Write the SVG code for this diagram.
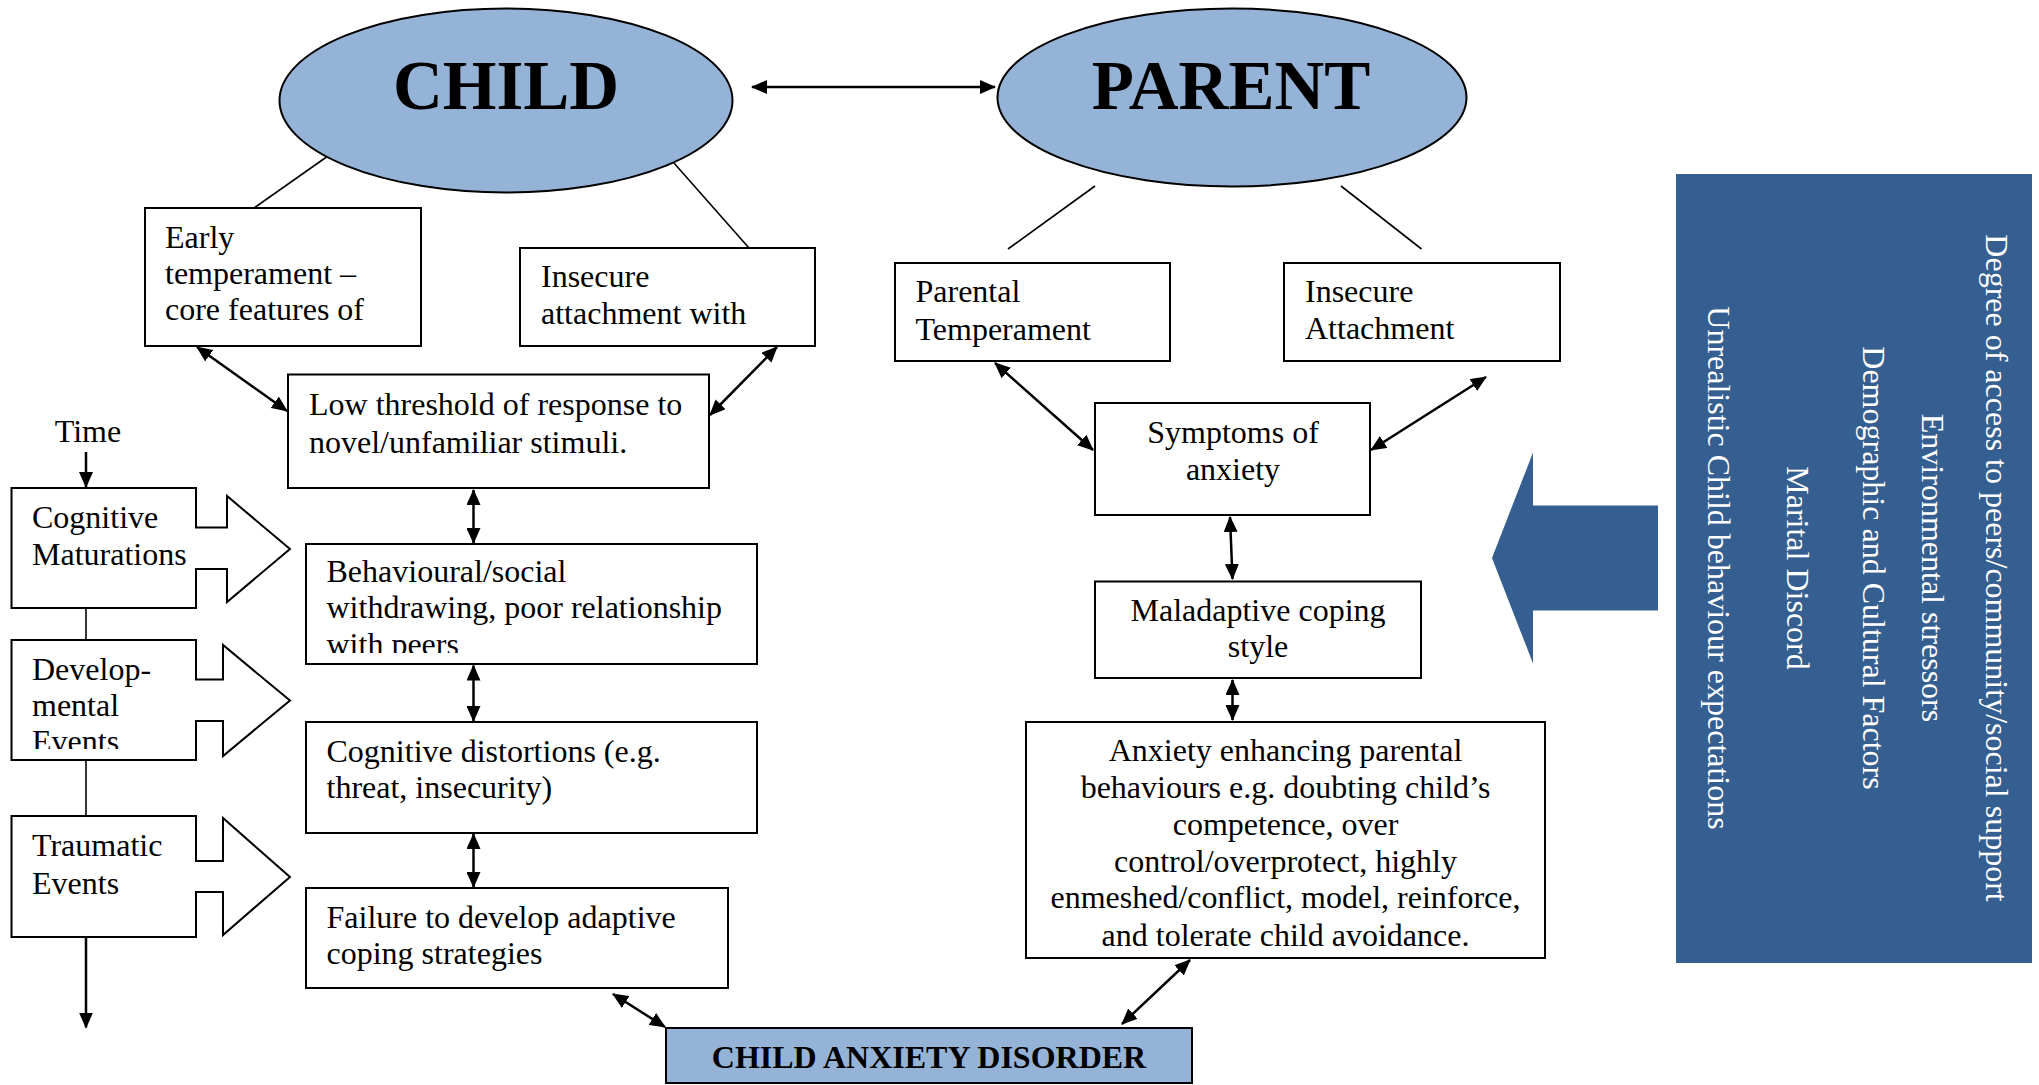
<svg xmlns="http://www.w3.org/2000/svg" width="2039" height="1085" viewBox="0 0 2039 1085">
<style>
.box{fill:#fff;stroke:#000;stroke-width:2}
.ell{fill:#95B3D7;stroke:#000;stroke-width:2}
.t{font-family:'Liberation Serif','Times New Roman',serif;font-size:32px;fill:#000}
.tm{font-family:'Liberation Serif','Times New Roman',serif;font-size:32px;fill:#000;text-anchor:middle}
.big{font-family:'Liberation Serif','Times New Roman',serif;font-size:69px;font-weight:bold;fill:#000;text-anchor:middle}
.rot{font-family:'Liberation Serif','Times New Roman',serif;font-size:32px;fill:#fff;text-anchor:middle}
.c2{stroke:#000;stroke-width:2.5;fill:none;marker-start:url(#ah);marker-end:url(#ah)}
.c1{stroke:#000;stroke-width:2.5;fill:none;marker-end:url(#ah)}
.thin{stroke:#000;stroke-width:1.6;fill:none}
</style>
<defs>
<marker id="ah" viewBox="0 0 16 14" refX="15" refY="7" markerWidth="16" markerHeight="14" markerUnits="userSpaceOnUse" orient="auto-start-reverse"><path d="M0,0 L16,7 L0,14 z" fill="#000"/></marker>
<clipPath id="clipDev"><rect x="12" y="641" width="184" height="108"/></clipPath>
<clipPath id="clipBeh"><rect x="307" y="545" width="449" height="108"/></clipPath>
</defs>
<rect width="2039" height="1085" fill="#fff"/>

<g id="connectors">
<line class="c2" x1="752" y1="87" x2="995" y2="87"/>
<line class="thin" x1="326.5" y1="157" x2="254" y2="208"/>
<line class="thin" x1="666" y1="154" x2="749" y2="248"/>
<line class="thin" x1="1095" y1="186" x2="1008" y2="249"/>
<line class="thin" x1="1341" y1="186" x2="1421.5" y2="249"/>
<line class="c2" x1="197" y1="347" x2="287" y2="411"/>
<line class="c2" x1="777" y1="347" x2="710" y2="415"/>
<line class="c2" x1="473.5" y1="490" x2="473.5" y2="543"/>
<line class="c2" x1="473.5" y1="665.5" x2="473.5" y2="721"/>
<line class="c2" x1="473.5" y1="834" x2="473.5" y2="887"/>
<line class="c2" x1="613" y1="994" x2="665" y2="1027"/>
<line class="c2" x1="995" y1="363" x2="1093" y2="450"/>
<line class="c2" x1="1486" y1="377" x2="1371" y2="450"/>
<line class="c2" x1="1230" y1="517" x2="1232.5" y2="579"/>
<line class="c2" x1="1232.5" y1="680" x2="1232.5" y2="720"/>
<line class="c2" x1="1190" y1="960" x2="1122" y2="1024"/>
<line class="c1" x1="86" y1="452" x2="86" y2="487"/>
<line class="thin" x1="86" y1="608" x2="86" y2="640"/>
<line class="thin" x1="86" y1="761" x2="86" y2="816"/>
<line class="c1" x1="86" y1="937" x2="86" y2="1027.5"/>
</g>

<g id="child">
<ellipse class="ell" cx="506" cy="100.5" rx="226.5" ry="92"/>
<text class="big" x="506" y="109">CHILD</text>
</g>
<g id="parent">
<ellipse class="ell" cx="1232" cy="97.5" rx="234.5" ry="89"/>
<text class="big" x="1231" y="109">PARENT</text>
</g>

<g id="early-temperament">
<rect class="box" x="145" y="208" width="276" height="138"/>
<text class="t" x="165" y="248">Early</text>
<text class="t" x="165" y="284">temperament –</text>
<text class="t" x="165" y="320">core features of</text>
</g>
<g id="insecure-attachment-child">
<rect class="box" x="520" y="248" width="295" height="98"/>
<text class="t" x="541" y="287">Insecure</text>
<text class="t" x="541" y="324">attachment with</text>
</g>
<g id="low-threshold">
<rect class="box" x="288" y="374.5" width="421" height="113.5"/>
<text class="t" x="309" y="415">Low threshold of response to</text>
<text class="t" x="309" y="453">novel/unfamiliar stimuli.</text>
</g>
<g id="behavioural">
<rect class="box" x="306" y="544" width="451" height="120"/>
<g clip-path="url(#clipBeh)">
<text class="t" x="326.5" y="582">Behavioural/social</text>
<text class="t" x="326.5" y="618">withdrawing, poor relationship</text>
<text class="t" x="326.5" y="655">with peers</text>
</g>
</g>
<g id="cognitive-distortions">
<rect class="box" x="306" y="722" width="451" height="111"/>
<text class="t" x="326.5" y="762">Cognitive distortions (e.g.</text>
<text class="t" x="326.5" y="798">threat, insecurity)</text>
</g>
<g id="failure">
<rect class="box" x="306" y="888" width="422" height="100"/>
<text class="t" x="326.5" y="928">Failure to develop adaptive</text>
<text class="t" x="326.5" y="964">coping strategies</text>
</g>
<g id="child-anxiety-disorder">
<rect x="666" y="1028" width="526" height="55" fill="#95B3D7" stroke="#000" stroke-width="2"/>
<text x="929" y="1068" font-family="'Liberation Serif','Times New Roman',serif" font-size="32" font-weight="bold" text-anchor="middle">CHILD ANXIETY DISORDER</text>
</g>

<g id="time">
<text class="tm" x="88" y="442">Time</text>
</g>
<g id="cognitive-maturations">
<path class="box" d="M11.5,488 H196 V527.5 H227 V496 L290,549 L227,602 V569 H196 V608 H11.5 Z"/>
<text class="t" x="32" y="528">Cognitive</text>
<text class="t" x="32" y="565">Maturations</text>
</g>
<g id="developmental-events">
<path class="box" d="M11.5,640 H196 V679.5 H223 V645 L290,700.5 L223,756 V721 H196 V760 H11.5 Z"/>
<g clip-path="url(#clipDev)">
<text class="t" x="32" y="680">Develop-</text>
<text class="t" x="32" y="716">mental</text>
<text class="t" x="32" y="752">Events</text>
</g>
</g>
<g id="traumatic-events">
<path class="box" d="M11.5,816 H196 V861 H223 V818 L290,877 L223,935 V892 H196 V937 H11.5 Z"/>
<text class="t" x="32" y="856">Traumatic</text>
<text class="t" x="32" y="893.5">Events</text>
</g>

<g id="parental-temperament">
<rect class="box" x="895" y="263" width="275" height="98"/>
<text class="t" x="915.5" y="302">Parental</text>
<text class="t" x="915.5" y="340">Temperament</text>
</g>
<g id="insecure-attachment-parent">
<rect class="box" x="1284" y="263" width="276" height="98"/>
<text class="t" x="1305" y="302">Insecure</text>
<text class="t" x="1305" y="339">Attachment</text>
</g>
<g id="symptoms">
<rect class="box" x="1095" y="403" width="275" height="112"/>
<text class="tm" x="1233" y="443">Symptoms of</text>
<text class="tm" x="1233" y="480">anxiety</text>
</g>
<g id="maladaptive">
<rect class="box" x="1095" y="581.5" width="326" height="96.5"/>
<text class="tm" x="1258" y="620.5">Maladaptive coping</text>
<text class="tm" x="1258" y="656.5">style</text>
</g>
<g id="anxiety-enhancing">
<rect class="box" x="1026" y="722" width="519" height="236"/>
<text class="tm" x="1285.5" y="761">Anxiety enhancing parental</text>
<text class="tm" x="1285.5" y="798">behaviours e.g. doubting child’s</text>
<text class="tm" x="1285.5" y="835">competence, over</text>
<text class="tm" x="1285.5" y="871.5">control/overprotect, highly</text>
<text class="tm" x="1285.5" y="908">enmeshed/conflict, model, reinforce,</text>
<text class="tm" x="1285.5" y="945.5">and tolerate child avoidance.</text>
</g>

<g id="external-arrow">
<polygon points="1492,558 1533,452.5 1533,505.5 1658,505.5 1658,610.5 1533,610.5 1533,663.5" fill="#365F91"/>
</g>
<g id="external-factors">
<rect x="1676" y="174" width="356" height="789" fill="#365F91"/>
<text class="rot" transform="translate(1986,568) rotate(90)">Degree of access to peers/community/social support</text>
<text class="rot" transform="translate(1922,568) rotate(90)">Environmental stressors</text>
<text class="rot" transform="translate(1863,568) rotate(90)">Demographic and Cultural Factors</text>
<text class="rot" transform="translate(1787,568) rotate(90)">Marital Discord</text>
<text class="rot" transform="translate(1708,568) rotate(90)">Unrealistic Child behaviour expectations</text>
</g>
</svg>
